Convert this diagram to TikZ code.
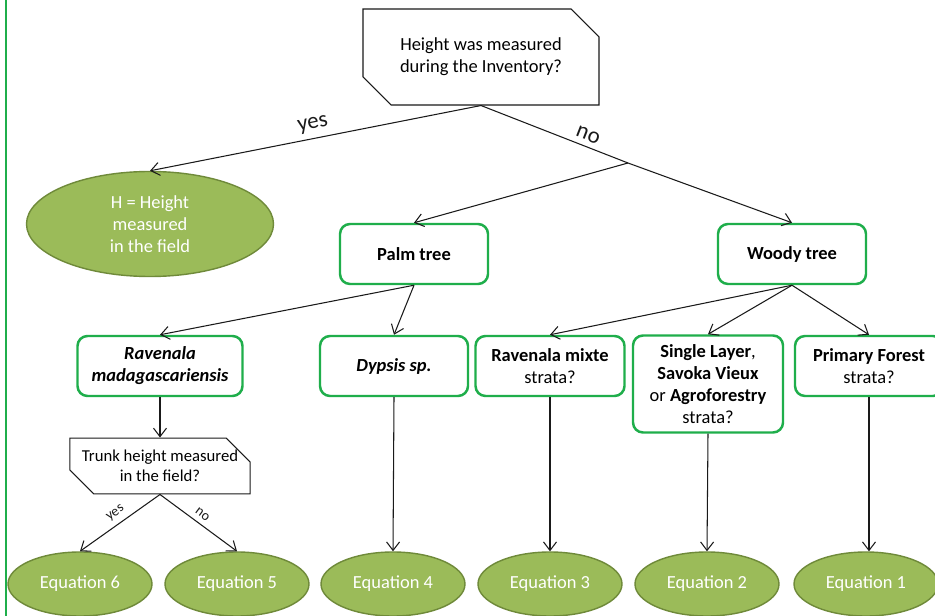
\documentclass[tikz,border=0pt]{standalone}
\usepackage{fontspec}
\setmainfont{Carlito}
\usepackage{xcolor}
\usetikzlibrary{arrows.meta,shapes.geometric,shapes.misc}
\definecolor{boxgreen}{HTML}{1FAE4B}
\definecolor{olivefill}{HTML}{9BBB59}
\definecolor{olivebd}{HTML}{6F8A3A}
\definecolor{ink}{HTML}{1A1A1A}
\tikzset{
  question/.style={chamfered rectangle,
                   chamfered rectangle corners={north east,south west},
                   chamfered rectangle sep=2.8mm,draw=ink,line width=0.6pt,
                   align=center,inner sep=0pt,
                   font=\fontsize{10.5}{12.5}\selectfont},
  choice/.style={draw=boxgreen,line width=1.4pt,rounded corners=2mm,
                 minimum width=29.6mm,minimum height=12mm,align=center,
                 inner sep=2pt,font=\fontsize{10.5}{12.5}\selectfont},
  result/.style={ellipse,draw=olivebd,fill=olivefill,line width=0.8pt,
                 minimum width=28.8mm,minimum height=12.8mm,inner sep=0pt,
                 align=center,text=white,font=\fontsize{10.5}{12.5}\selectfont},
  link/.style={-{Straight Barb[length=1.7mm,width=2.6mm]},line width=0.6pt,ink},
  bigword/.style={font=\fontsize{13}{15}\selectfont,inner sep=3pt},
  smallword/.style={font=\fontsize{8}{9}\selectfont,inner sep=3pt},
}

\begin{document}
\begin{tikzpicture}[x=0.2mm,y=-0.2mm]
  \clip (0,0) rectangle (935,616);
  \fill[white] (0,0) rectangle (935,616);

  % left frame line
  \draw[boxgreen,line width=0.8pt] (6,0) -- (6,616);

  % root question
  \node[question,minimum width=47.2mm,minimum height=19.2mm] (inv) at (481,57)
    {Height was measured\\during the Inventory?};
  \coordinate (split) at (628,163);

  % first level
  \node[result,minimum width=49.4mm,minimum height=21mm] (hfield) at (150,224)
    {H = Height\\measured\\in the field};
  \node[choice] (palm) at (414,254) {\textbf{Palm tree}};
  \node[choice] (woody) at (792,254) {\textbf{Woody tree}};

  % second level
  \node[choice,minimum width=33mm] (ravmad) at (160,366)
    {\textbf{\textit{Ravenala}}\\\textbf{\textit{madagascariensis}}};
  \node[choice] (dypsis) at (394,366) {\textbf{\textit{Dypsis sp.}}};
  \node[choice,minimum width=29.8mm] (ravmix) at (550,366)
    {\textbf{Ravenala mixte}\\strata?};
  \node[choice,minimum width=30mm,minimum height=19.4mm] (single) at (708,384)
    {\textbf{Single Layer},\\\textbf{Savoka Vieux}\\or \textbf{Agroforestry}\\strata?};
  \node[choice] (primary) at (869,366) {\textbf{Primary Forest}\\strata?};

  \node[question,minimum width=36mm,minimum height=10.6mm,
        chamfered rectangle sep=2.4mm,font=\fontsize{9.5}{11.5}\selectfont]
    (trunk) at (160,466) {Trunk height measured\\in the field?};

  % equations
  \node[result] (eqsix) at (80,584) {Equation 6};
  \node[result] (eqfive) at (237,584) {Equation 5};
  \node[result] (eqfour) at (393,584) {Equation 4};
  \node[result] (eqthree) at (550,584) {Equation 3};
  \node[result] (eqtwo) at (707,584) {Equation 2};
  \node[result] (eqone) at (866,584) {Equation 1};

  % connectors
  \draw[link] (inv.south) -- node[pos=0.5,sloped,above,bigword]{yes} (hfield.north);
  \draw[line width=0.6pt,ink] (inv.south) -- node[pos=0.7,sloped,above,bigword]{no} (split);
  \draw[link] (split) -- (palm.north);
  \draw[link] (split) -- (woody.north);

  \draw[link] (palm.south) -- (ravmad.north);
  \draw[link] (palm.south) -- (dypsis.north);
  \draw[link] (woody.south) -- (ravmix.north);
  \draw[link] (woody.south) -- (single.north);
  \draw[link] (woody.south) -- (primary.north);

  \draw[link] (ravmad.south) -- (trunk.north);
  \draw[link] (trunk.south) -- node[pos=0.48,sloped,above,smallword]{yes} (eqsix.north);
  \draw[link] (trunk.south) -- node[pos=0.48,sloped,above,smallword]{no} (eqfive.north);

  \draw[link] (dypsis.south) -- (eqfour.north);
  \draw[link] (ravmix.south) -- (eqthree.north);
  \draw[link] (single.south) -- (eqtwo.north);
  \draw[link] (primary.south) -- (primary.south |- eqone.north);
\end{tikzpicture}
\end{document}
